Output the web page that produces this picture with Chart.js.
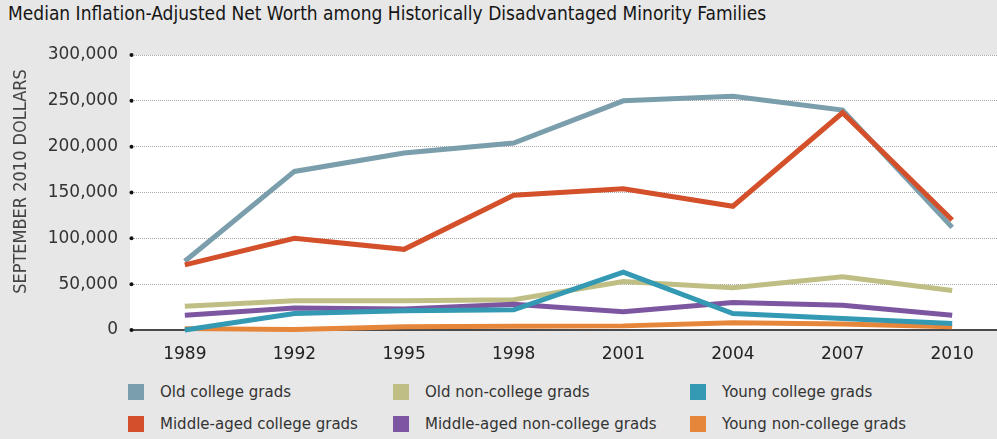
<!DOCTYPE html>
<html>
<head>
<meta charset="utf-8">
<script src="https://cdn.jsdelivr.net/npm/chart.js@4/dist/chart.umd.min.js"></script>
<style>
  html, body { margin: 0; padding: 0; }
  body { width: 997px; height: 439px; overflow: hidden; background: #e7e7e7; position: relative; font-family: 'DejaVu Sans', sans-serif; }
  #title { position: absolute; left: 8px; top: 2px; font-family: 'DejaVu Sans Condensed', 'DejaVu Sans', sans-serif; font-size: 19px; color: #151515; white-space: nowrap; }
  #chart-wrap { position: absolute; left: 0; top: 0; width: 1007px; height: 380px; }
  .legend-item { position: absolute; height: 18px; line-height: 18px; font-size: 15px; color: #333; white-space: nowrap; }
  .legend-item span.box { position: absolute; left: 0; top: 1px; width: 16px; height: 16px; }
  .legend-item span.txt { position: absolute; left: 32px; top: 0; }
</style>
</head>
<body>
<div id="title">Median Inflation-Adjusted Net Worth among Historically Disadvantaged Minority Families</div>
<div id="chart-wrap"><canvas id="net-worth-chart"></canvas></div>
<div id="legend"></div>
<script>
'use strict';

// Survey years
var years = ['1989', '1992', '1995', '1998', '2001', '2004', '2007', '2010'];

// Median net worth, September 2010 dollars
var oldCollege = [75000, 173000, 193000, 204000, 250000, 255000, 240000, 112000];
var oldNonCollege = [26000, 32000, 32000, 33000, 53000, 46000, 58000, 43000];
var youngCollege = [0, 18000, 21000, 22000, 63000, 18000, 12500, 7000];
var middleCollege = [71000, 100000, 88000, 147000, 154000, 135000, 237000, 120000];
var middleNonCollege = [16000, 24000, 23000, 28000, 20000, 30000, 27000, 16000];
var youngNonCollege = [1500, 500, 3500, 4000, 4500, 8000, 6500, 3500];

var yTicks = [0, 50000, 100000, 150000, 200000, 250000, 300000];
var yTitle = 'SEPTEMBER 2010 DOLLARS';

function makeSeries(label, data, color, order) {
  return {
    label: label,
    data: data,
    borderColor: color,
    backgroundColor: color,
    borderWidth: 5,
    pointRadius: 0,
    tension: 0,
    clip: false,
    order: order
  };
}

// white plot area, solid zero line, the little dots at each gridline, axis title
var plotDecor = {
  id: 'plotDecor',
  beforeDraw: function(chart) {
    var a = chart.chartArea;
    var ctx = chart.ctx;
    ctx.save();
    ctx.fillStyle = '#ffffff';
    ctx.fillRect(a.left, a.top, a.right - a.left, a.bottom - a.top);
    ctx.restore();
  },
  beforeDatasetsDraw: function(chart) {
    var a = chart.chartArea;
    var ctx = chart.ctx;
    var y0 = chart.scales.y.getPixelForValue(0);
    ctx.save();
    ctx.strokeStyle = '#4a4a4a';
    ctx.lineWidth = 2;
    ctx.beginPath();
    ctx.moveTo(a.left + 1, y0);
    ctx.lineTo(a.right, y0);
    ctx.stroke();
    ctx.fillStyle = '#111';
    yTicks.forEach(function(v) {
      var y = chart.scales.y.getPixelForValue(v);
      ctx.beginPath();
      ctx.arc(a.left + 1.5, y, 2, 0, Math.PI * 2);
      ctx.fill();
    });
    ctx.restore();
  },
  afterDraw: function(chart) {
    // the original sits the axis title a little above the middle of the axis
    var ctx = chart.ctx;
    var a = chart.chartArea;
    ctx.save();
    ctx.translate(21, (a.top + a.bottom) / 2 - 11);
    ctx.rotate(-Math.PI / 2);
    ctx.font = "18px 'DejaVu Sans Condensed', 'DejaVu Sans', sans-serif";
    ctx.fillStyle = '#444';
    ctx.textAlign = 'center';
    ctx.textBaseline = 'middle';
    ctx.fillText(yTitle, 0, 0);
    ctx.restore();
  }
};

var ctx = document.getElementById('net-worth-chart').getContext('2d');
var chart = new Chart(ctx, {
  type: 'line',
  data: {
    labels: years,
    datasets: [
      makeSeries('Old college grads', oldCollege, '#7b9eac', 1),
      makeSeries('Old non-college grads', oldNonCollege, '#bfbf85', 4),
      makeSeries('Young college grads', youngCollege, '#3499b3', 2),
      makeSeries('Middle-aged college grads', middleCollege, '#d3502b', 0),
      makeSeries('Middle-aged non-college grads', middleNonCollege, '#7d56a1', 3),
      makeSeries('Young non-college grads', youngNonCollege, '#e6863b', 5)
    ]
  },
  options: {
    responsive: true,
    maintainAspectRatio: false,
    animation: false,
    layout: { padding: { top: 55, left: 0, right: 0, bottom: 0 } },
    plugins: {
      legend: { display: false },
      tooltip: { enabled: false }
    },
    scales: {
      x: {
        offset: true,
        grid: { display: false, drawTicks: false },
        border: { display: false },
        ticks: {
          padding: 14,
          color: '#222',
          font: { family: 'DejaVu Sans', size: 17 }
        },
        afterFit: function(scale) { scale.height = 50; }
      },
      y: {
        min: 0,
        max: 300000,
        afterBuildTicks: function(scale) {
          scale.ticks = yTicks.map(function(v) { return { value: v }; });
        },
        grid: {
          drawTicks: false,
          color: function(c) { return c.tick && c.tick.value === 0 ? 'rgba(0,0,0,0)' : '#a8a8a8'; },
          lineWidth: 1
        },
        border: { display: false, dash: [1, 1] },
        ticks: {
          padding: 12,
          color: '#333',
          font: { family: 'DejaVu Sans', size: 17 },
          callback: function(v) { return Number(v).toLocaleString('en-US'); }
        },
        afterFit: function(scale) { scale.width = 130; }
      }
    }
  },
  plugins: [plotDecor]
});

// Legend laid out in two rows of three, like the original
var legendCols = [128, 393, 690];
var legendRows = [383, 415];
var legendBox = document.getElementById('legend');
chart.data.datasets.forEach(function(ds, i) {
  var item = document.createElement('div');
  item.className = 'legend-item';
  item.style.left = legendCols[i % 3] + 'px';
  item.style.top = legendRows[Math.floor(i / 3)] + 'px';
  item.innerHTML = '<span class="box" style="background:' + ds.borderColor + '"></span><span class="txt"></span>';
  item.querySelector('.txt').textContent = ds.label;
  legendBox.appendChild(item);
});
</script>
</body>
</html>
